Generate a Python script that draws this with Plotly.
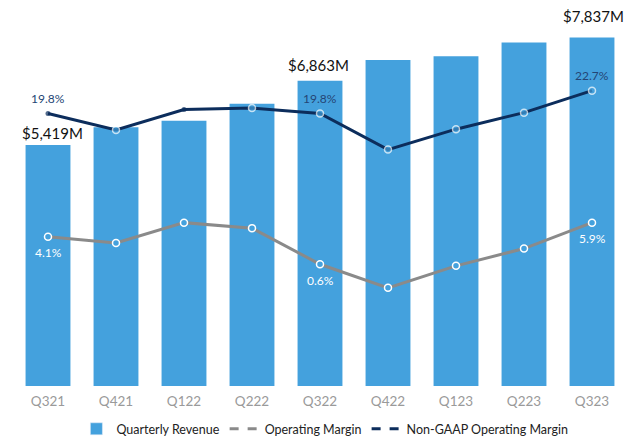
import plotly.graph_objects as go

quarters = ["Q321", "Q421", "Q122", "Q222", "Q322", "Q422", "Q123", "Q223", "Q323"]
revenue = [5419, 5817, 5963, 6343, 6863, 7326, 7411, 7720, 7837]
op_margin = [4.1, 3.3, 5.9, 5.2, 0.6, -2.4, 0.4, 2.6, 5.9]
nongaap_margin = [19.8, 17.7, 20.3, 20.5, 19.8, 15.2, 17.8, 19.9, 22.7]
labeled_idx = [0, 4, 8]

BAR = "#44a1dd"
NAVY = "#0c2d5c"
GRAY = "#8a8a8a"
FONT = "Lato, 'Open Sans', sans-serif"

ng_marker_colors = [NAVY, BAR, NAVY, BAR, BAR, BAR, BAR, BAR, BAR]
ng_marker_sizes = [5, 7, 5, 7, 7, 7, 7, 7, 7]
ng_marker_lw = [0, 1.5, 0, 1.5, 1.5, 1.5, 1.5, 1.5, 1.5]

fig = go.Figure()
fig.add_trace(go.Bar(x=quarters, y=revenue, marker=dict(color=BAR, line=dict(width=0)),
                     width=0.66, showlegend=False, hoverinfo="skip"))
fig.add_trace(go.Scatter(x=quarters, y=op_margin, yaxis="y2", mode="lines+markers",
                         line=dict(color=GRAY, width=3),
                         marker=dict(size=7, color=BAR, line=dict(color="white", width=1.5)),
                         showlegend=False))
fig.add_trace(go.Scatter(x=quarters, y=nongaap_margin, yaxis="y2", mode="lines+markers",
                         line=dict(color=NAVY, width=3),
                         marker=dict(size=ng_marker_sizes, color=ng_marker_colors,
                                     line=dict(color="white", width=ng_marker_lw)),
                         showlegend=False))

# legend-only traces
fig.add_trace(go.Bar(x=[None], y=[None], name="Quarterly Revenue", marker=dict(color=BAR)))
fig.add_trace(go.Scatter(x=[None], y=[None], yaxis="y2", mode="lines", name="Operating Margin",
                         line=dict(color=GRAY, width=3, dash="dash")))
fig.add_trace(go.Scatter(x=[None], y=[None], yaxis="y2", mode="lines", name="Non-GAAP Operating Margin",
                         line=dict(color=NAVY, width=3, dash="dash")))

annotations = []
rev_shift = {0: (4, 12), 4: (-2, 16), 8: (1, 21)}
for i in labeled_idx:
    xs, ys = rev_shift[i]
    annotations.append(dict(x=quarters[i], y=revenue[i], xref="x", yref="y",
                            text=f"${revenue[i]:,}M", showarrow=False,
                            xshift=xs, yshift=ys,
                            font=dict(family=FONT, size=15, color="#111111")))
    annotations.append(dict(x=quarters[i], y=nongaap_margin[i], xref="x", yref="y2",
                            text=f"{nongaap_margin[i]:.1f}%", showarrow=False, yshift=15,
                            font=dict(family=FONT, size=12, color="#244575")))
    annotations.append(dict(x=quarters[i], y=op_margin[i], xref="x", yref="y2",
                            text=f"{op_margin[i]:.1f}%", showarrow=False, yshift=-16,
                            font=dict(family=FONT, size=12, color="white")))

fig.update_layout(
    width=632, height=436,
    margin=dict(l=6, r=14, t=12, b=58),
    paper_bgcolor="white", plot_bgcolor="white",
    font=dict(family=FONT),
    bargap=0.34,
    xaxis=dict(type="category", range=[-0.5, 8.5], showline=False, showgrid=False,
               ticks="", ticklabelstandoff=5,
               tickfont=dict(family=FONT, size=13.5, color="#9a9a9a")),
    yaxis=dict(range=[0, 8228], visible=False, showgrid=False),
    yaxis2=dict(range=[-14.9, 31.7], overlaying="y", visible=False, showgrid=False),
    legend=dict(orientation="h", x=0.508, xanchor="center", yref="container", y=0.034,
                yanchor="middle", font=dict(family=FONT, size=12.5, color="#222222"),
                traceorder="normal"),
    annotations=annotations,
)

fig.write_html("out.html")
